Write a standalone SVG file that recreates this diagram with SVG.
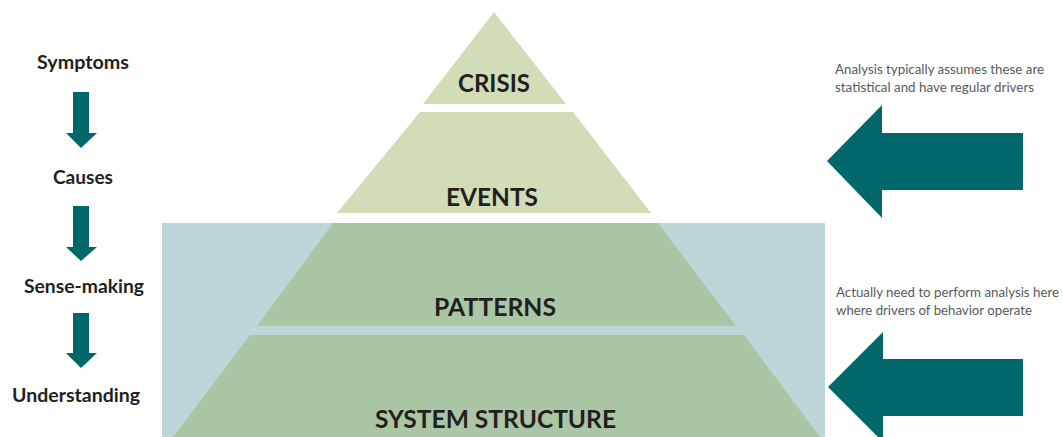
<svg xmlns="http://www.w3.org/2000/svg" width="1063" height="437" viewBox="0 0 1063 437">
<style>
.lbl{font-family:Lato,"Open Sans","Liberation Sans",sans-serif;font-weight:700;fill:#231F20;text-anchor:middle}
.step{font-size:18px}
.lvl{font-size:24.5px}
.note{font-family:Lato,"Open Sans","Liberation Sans",sans-serif;font-size:13px;fill:#58595B}
.arrow{fill:#00686B}
.light{fill:#D0DDB6}
.dark{fill:#ABC6A4}
</style>
<rect x="0" y="0" width="1063" height="437" fill="#FFFFFF"/>
<rect id="analysis-zone" x="162" y="223" width="663" height="214" fill="#BDD6D9"/>
<g id="crisis">
<polygon class="light" points="494,12 566,104 423,104"/>
<text class="lbl lvl" x="494" y="92" textLength="72" lengthAdjust="spacingAndGlyphs">CRISIS</text>
</g>
<g id="events">
<polygon class="light" points="420,112 573,112 651,213 337,213"/>
<text class="lbl lvl" x="492" y="206" textLength="92" lengthAdjust="spacingAndGlyphs">EVENTS</text>
</g>
<g id="patterns">
<polygon class="dark" points="333,223 658,223 736,326 257,326"/>
<text class="lbl lvl" x="495" y="316" textLength="122" lengthAdjust="spacingAndGlyphs">PATTERNS</text>
</g>
<g id="system-structure">
<polygon class="dark" points="250,335 744,335 820,437 173,437"/>
<text class="lbl lvl" x="495.5" y="428" textLength="241" lengthAdjust="spacingAndGlyphs">SYSTEM STRUCTURE</text>
</g>
<g id="symptoms"><text class="lbl step" x="83" y="69" textLength="92" lengthAdjust="spacingAndGlyphs">Symptoms</text></g>
<g id="causes"><text class="lbl step" x="83" y="184" textLength="60" lengthAdjust="spacingAndGlyphs">Causes</text></g>
<g id="sense-making"><text class="lbl step" x="84" y="293" textLength="120" lengthAdjust="spacingAndGlyphs">Sense-making</text></g>
<g id="understanding"><text class="lbl step" x="76" y="402" textLength="128" lengthAdjust="spacingAndGlyphs">Understanding</text></g>
<g id="note-top">
<text class="note" x="835" y="74" textLength="209" lengthAdjust="spacingAndGlyphs">Analysis typically assumes these are</text>
<text class="note" x="835" y="92" textLength="199" lengthAdjust="spacingAndGlyphs">statistical and have regular drivers</text>
</g>
<g id="note-bottom">
<text class="note" x="836" y="297" textLength="223" lengthAdjust="spacingAndGlyphs">Actually need to perform analysis here</text>
<text class="note" x="836" y="315" textLength="196" lengthAdjust="spacingAndGlyphs">where drivers of behavior operate</text>
</g>
<g id="connectors">
<polygon class="arrow" points="73,92 89,92 89,133 97,133 81,148 66,133 73,133"/>
<polygon class="arrow" points="73,206 89,206 89,247 97,247 81,261 66,247 73,247"/>
<polygon class="arrow" points="73,313 89,313 89,353 97,353 81,368 66,353 73,353"/>
<polygon class="arrow" points="827,161 882,105 882,133 1023,133 1023,190 882,190 882,218"/>
<polygon class="arrow" points="828,387 883,332 883,359 1023,359 1023,416 883,416 883,442"/>
</g>
</svg>
